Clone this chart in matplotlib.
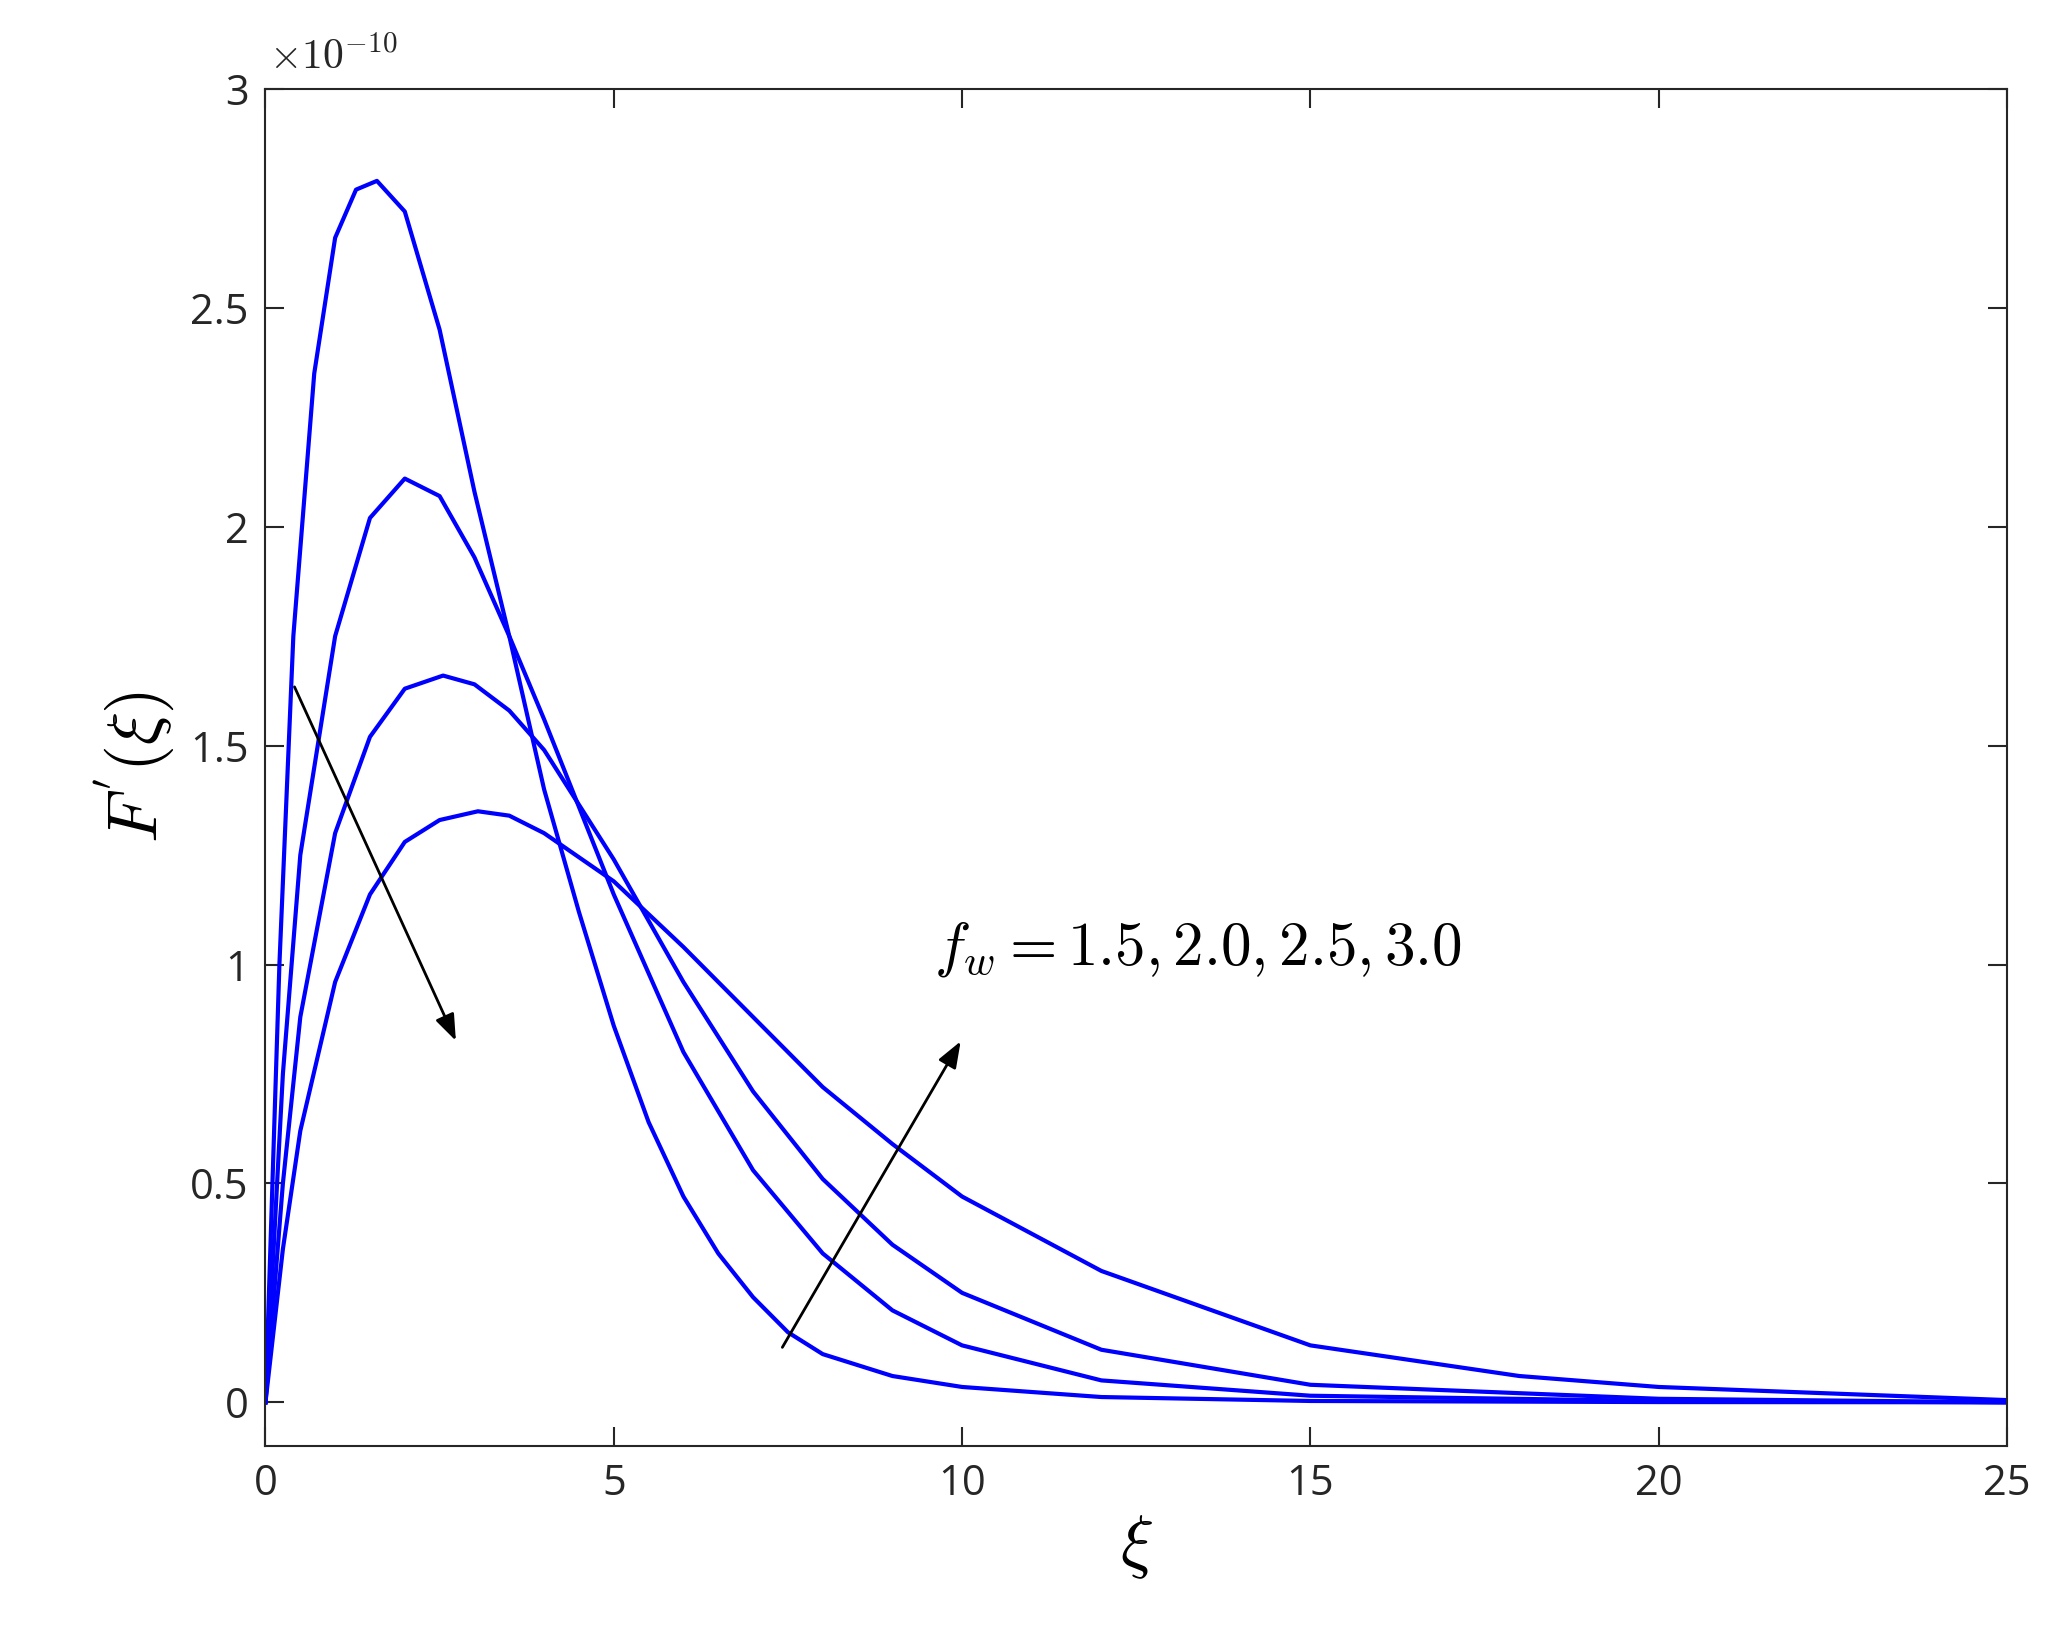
import matplotlib.pyplot as plt
import numpy as np

plt.rcParams['font.family'] = ['Open Sans', 'DejaVu Sans']
plt.rcParams['mathtext.fontset'] = 'cm'

# values (units of 1e-10)
xi_1 = [0, 0.2, 0.4, 0.7, 1.0, 1.3, 1.6, 2.0, 2.5, 3.0, 3.5, 4.0, 4.5, 5.0, 5.5, 6.0, 6.5, 7.0, 7.5, 8.0, 9.0, 10, 12, 15, 20, 25]
fp_1 = [0, 1.0, 1.75, 2.35, 2.66, 2.77, 2.79, 2.72, 2.45, 2.08, 1.75, 1.4, 1.12, 0.86, 0.64, 0.47, 0.34, 0.24, 0.16, 0.11, 0.06, 0.035, 0.012, 0.003, 0.0005, 0]
xi_2 = [0, 0.25, 0.5, 1.0, 1.5, 2.0, 2.5, 3.0, 3.5, 4.0, 5.0, 6.0, 7.0, 8.0, 9.0, 10, 12, 15, 20, 25]
fp_2 = [0, 0.75, 1.25, 1.75, 2.02, 2.11, 2.07, 1.93, 1.75, 1.56, 1.16, 0.8, 0.53, 0.34, 0.21, 0.13, 0.05, 0.015, 0.003, 0]
xi_3 = [0, 0.25, 0.5, 1.0, 1.5, 2.0, 2.55, 3.0, 3.5, 4.0, 5.0, 6.0, 7.0, 8.0, 9.0, 10, 12, 15, 20, 25]
fp_3 = [0, 0.5, 0.88, 1.3, 1.52, 1.63, 1.66, 1.64, 1.58, 1.49, 1.24, 0.96, 0.71, 0.51, 0.36, 0.25, 0.12, 0.04, 0.008, 0]
xi_4 = [0, 0.25, 0.5, 1.0, 1.5, 2.0, 2.5, 3.05, 3.5, 4.0, 5.0, 6.0, 7.0, 8.0, 9.0, 10, 12, 15, 18, 20, 25]
fp_4 = [0, 0.35, 0.62, 0.96, 1.16, 1.28, 1.33, 1.35, 1.34, 1.3, 1.19, 1.04, 0.88, 0.72, 0.59, 0.47, 0.3, 0.13, 0.06, 0.035, 0.005]

fig = plt.figure(figsize=(20.5, 16.47), dpi=100)
ax = fig.add_axes([0.1295, 0.122, 0.8495, 0.824])

scale = 1e-10
for xs, ys in [(xi_1, fp_1), (xi_2, fp_2), (xi_3, fp_3), (xi_4, fp_4)]:
    ax.plot(xs, np.array(ys) * scale, color='#0000ff', lw=3)

ax.set_xlim(0, 25)
ax.set_ylim(-0.1e-10, 3e-10)
ax.set_xticks([0, 5, 10, 15, 20, 25])
ax.set_yticks(np.array([0, 0.5, 1, 1.5, 2, 2.5, 3]) * scale)
ax.set_yticklabels(['0', '0.5', '1', '1.5', '2', '2.5', '3'])
ax.tick_params(direction='in', length=14, width=1.5, labelsize=30, top=True, right=True, pad=12, colors='#262626')
for s in ax.spines.values():
    s.set_linewidth(1.5)
    s.set_color('#262626')
fig.text(0.131, 0.952, r'$\times10^{-10}$', fontsize=30, color='#262626', va='bottom')

ax.set_xlabel(r'$\xi$', fontsize=50, labelpad=5)
ax.set_ylabel(r"$F^{'}(\xi)$", fontsize=50, labelpad=10)

ax.annotate('', xy=(2.75, 0.82e-10), xytext=(0.4, 1.64e-10),
            arrowprops=dict(arrowstyle='-|>,head_length=1.6,head_width=0.6', color='black', lw=2))
ax.annotate('', xy=(10.0, 0.83e-10), xytext=(7.4, 0.12e-10),
            arrowprops=dict(arrowstyle='-|>,head_length=1.6,head_width=0.6', color='black', lw=2))
ax.text(9.6, 1.0e-10, r'$f_w = 1.5, 2.0, 2.5, 3.0$', fontsize=44)

fig.savefig('out.png', dpi=100)
